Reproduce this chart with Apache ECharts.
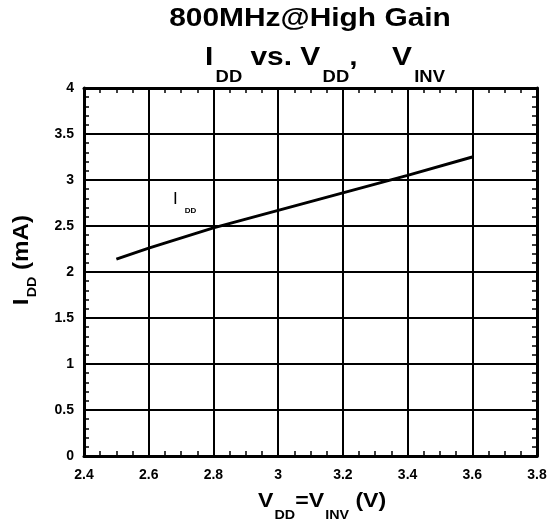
<!DOCTYPE html>
<html>
<head>
<meta charset="utf-8">
<script src="https://cdn.jsdelivr.net/npm/echarts@6/dist/echarts.min.js"></script>
<style>html,body{margin:0;padding:0;background:#fff;}#c{width:551px;height:525px;}</style>
</head>
<body>
<div id="c"></div>
<script>
// Data
const vdd = [2.5, 2.6, 2.8, 3.0, 3.2, 3.4, 3.6];
const idd = [2.14, 2.26, 2.48, 2.67, 2.86, 3.05, 3.25];
const xTicks = [2.4, 2.6, 2.8, 3.0, 3.2, 3.4, 3.6, 3.8];
const yTicks = [0, 0.5, 1, 1.5, 2, 2.5, 3, 3.5, 4];

const FONT = '"Liberation Sans", Arial, sans-serif';
const chart = echarts.init(document.getElementById('c'), null, {renderer: 'canvas'});

function axisBase(pos, isX, withLabels) {
  return {
    type: 'value',
    position: pos,
    min: isX ? xTicks[0] : yTicks[0],
    max: isX ? xTicks[xTicks.length - 1] : yTicks[yTicks.length - 1],
    interval: isX ? 0.2 : 0.5,
    axisLine: {show: true, onZero: false, lineStyle: {color: '#000', width: 3}},
    axisTick: {show: false, inside: true},
    minorTick: {show: true, splitNumber: isX ? 4 : 5, length: 5, lineStyle: {color: '#000', width: 1.5}},
    splitLine: {show: withLabels, lineStyle: {color: '#000', width: 2}},
    axisLabel: {
      show: withLabels,
      color: '#000',
      fontFamily: FONT,
      fontWeight: 'bold',
      fontSize: 14,
      margin: isX ? 12 : 10,
      formatter: function (v) { return String(Math.round(v * 100) / 100); }
    }
  };
}

function txt(fontSize, weight) {
  return {fontFamily: FONT, fontWeight: weight || 'bold', fontSize: fontSize, fill: '#000', color: '#000', verticalAlign: 'top'};
}
function sub(fontSize, padTop, padLeft) {
  const s = txt(fontSize);
  s.padding = [padTop, 0, 0, padLeft || 0];
  return s;
}
function gap(fontSize, padLeft) {
  const s = txt(fontSize);
  s.padding = [0, 0, 0, padLeft];
  return s;
}

const option = {
  animation: false,
  backgroundColor: '#fff',
  grid: {left: 84, right: 14, top: 88, bottom: 69, containLabel: false},
  xAxis: [axisBase('bottom', true, true), axisBase('top', true, false)],
  yAxis: [axisBase('left', false, true), axisBase('right', false, false)],
  series: [{
    type: 'line',
    data: vdd.map((v, i) => [v, idd[i]]),
    showSymbol: false,
    symbol: 'none',
    lineStyle: {color: '#000', width: 3},
    z: 5
  }],
  graphic: [
    {
      type: 'text', x: 310, y: 0, scaleX: 1.15,
      style: {
        x: 0, y: 18.5, text: '800MHz@High Gain', textAlign: 'center', textVerticalAlign: 'middle',
        font: 'bold 26px ' + FONT, fill: '#000'
      }
    },
    {
      type: 'text', x: 205, y: 45, scaleX: 1.15,
      style: {
        x: 0, y: 0, textAlign: 'left', textVerticalAlign: 'top',
        text: '{m|I}{s|DD}{m| vs. V}{s|DD}{m|,}{g|V}{s|INV}',
        rich: { m: txt(26), s: sub(16, 25, 2), g: gap(26, 30) }
      }
    },
    {
      type: 'text', x: 258, y: 491, scaleX: 1.1,
      style: {
        x: 0, y: 0, textAlign: 'left', textVerticalAlign: 'top',
        text: '{m|V}{s|DD}{m|=V}{s|INV}{m| (V)}',
        rich: { m: txt(21), s: sub(13, 17.5, 1) }
      }
    },
    {
      type: 'text', rotation: Math.PI / 2, x: 11, y: 260, scaleX: 1.1,
      style: {
        x: 0, y: 0, textAlign: 'center', textVerticalAlign: 'top',
        text: '{m|I}{s|DD}{m| (mA)}',
        rich: { m: txt(22), s: sub(13, 15, 1) }
      }
    },
    {
      type: 'text', x: 173, y: 191,
      style: {
        x: 0, y: 0, textAlign: 'left', textVerticalAlign: 'top',
        text: '{m|I}{s|DD}',
        rich: { m: txt(17, 'normal'), s: sub(8, 16, 7) }
      }
    }
  ]
};
chart.setOption(option);
</script>
</body>
</html>
